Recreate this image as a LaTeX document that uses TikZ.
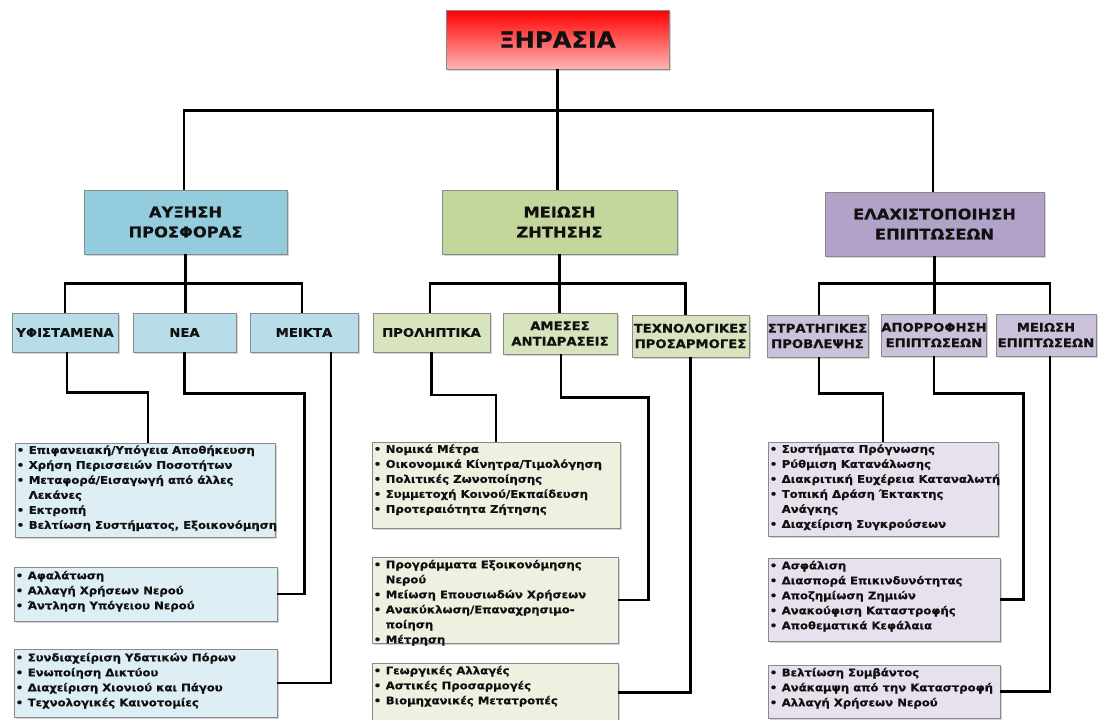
\documentclass[tikz,border=0pt]{standalone}
\usepackage{fontspec}
\setmainfont{DejaVu Sans}[FakeStretch=1.1, BoldFeatures={FakeBold=0.6}]
\usetikzlibrary{shadows}

\definecolor{ink}{HTML}{111111}
\definecolor{edge}{HTML}{8A8A8A}
\definecolor{catblue}{HTML}{93CDDD}
\definecolor{catgreen}{HTML}{C3D69B}
\definecolor{catpurple}{HTML}{B3A2C7}
\definecolor{subblue}{HTML}{B7DEE8}
\definecolor{subgreen}{HTML}{D7E4BD}
\definecolor{subpurple}{HTML}{CCC1DA}
\definecolor{listblue}{HTML}{DDEFF5}
\definecolor{listgreen}{HTML}{EDF2E0}
\definecolor{listpurple}{HTML}{E6E1ED}
\definecolor{pinkend}{HTML}{FFB4B4}

% bullet row and continuation row of a list table
\newcommand\itm[1]{\textbullet & #1\\}
\newcommand\cont[1]{& #1\\}
\newenvironment{bul}{\renewcommand\arraystretch{1}\begin{tabular}{@{}c@{\hspace{4.5pt}}l@{}}}{\end{tabular}}

\tikzset{
  box/.style={draw=edge, line width=0.8pt, inner sep=0pt, text=ink,
    font=\bfseries, align=center,
    drop shadow={opacity=0.35, shadow xshift=1.6pt, shadow yshift=-1.6pt}},
  topbox/.style={box, top color=red, bottom color=pinkend,
    font=\fontsize{22}{24}\selectfont\bfseries},
  catbox/.style={box, font=\fontsize{14.8}{20}\selectfont\bfseries},
  subbox/.style={box, font=\fontsize{12}{15.5}\selectfont\bfseries},
  listbox/.style={box},
  listtext/.style={anchor=north west, inner sep=0pt, text=ink, align=left,
    font=\fontsize{10.6}{15}\selectfont\bfseries},
  conn/.style={line width=2.4pt, black}
}

\begin{document}
\begin{tikzpicture}[x=1pt, y=-1pt]
\useasboundingbox (0,0) rectangle (1098,720);

% root
\node[topbox, minimum width=223pt, minimum height=59pt] (top) at (557.5,39.5) {ΞΗΡΑΣΙΑ};

% strategies
\node[catbox, fill=catblue, minimum width=203pt, minimum height=64pt] (A) at (185.5,222) {ΑΥΞΗΣΗ\\ΠΡΟΣΦΟΡΑΣ};
\node[catbox, fill=catgreen, minimum width=235pt, minimum height=64pt] (B) at (559.5,222) {ΜΕΙΩΣΗ\\ΖΗΤΗΣΗΣ};
\node[catbox, fill=catpurple, minimum width=219pt, minimum height=64pt] (C) at (934.5,224) {ΕΛΑΧΙΣΤΟΠΟΙΗΣΗ\\ΕΠΙΠΤΩΣΕΩΝ};

% measure groups
\node[subbox, fill=subblue, minimum width=106pt, minimum height=39pt] (A1) at (65,332.5) {ΥΦΙΣΤΑΜΕΝΑ};
\node[subbox, fill=subblue, minimum width=103pt, minimum height=39pt] (A2) at (184.5,332.5) {ΝΕΑ};
\node[subbox, fill=subblue, minimum width=108pt, minimum height=39pt] (A3) at (304,332.5) {ΜΕΙΚΤΑ};
\node[subbox, fill=subgreen, minimum width=117pt, minimum height=39pt] (B1) at (431.5,332.5) {ΠΡΟΛΗΠΤΙΚΑ};
\node[subbox, fill=subgreen, minimum width=114pt, minimum height=41pt] (B2) at (560,333.5) {ΑΜΕΣΕΣ\\ΑΝΤΙΔΡΑΣΕΙΣ};
\node[subbox, fill=subgreen, minimum width=117pt, minimum height=42pt] (B3) at (690.5,336) {ΤΕΧΝΟΛΟΓΙΚΕΣ\\ΠΡΟΣΑΡΜΟΓΕΣ};
\node[subbox, fill=subpurple, minimum width=101pt, minimum height=42pt] (C1) at (817.5,336) {ΣΤΡΑΤΗΓΙΚΕΣ\\ΠΡΟΒΛΕΨΗΣ};
\node[subbox, fill=subpurple, minimum width=102pt, minimum height=42pt] (C2) at (934,335) {ΑΠΟΡΡΟΦΗΣΗ\\ΕΠΙΠΤΩΣΕΩΝ};
\node[subbox, fill=subpurple, minimum width=100pt, minimum height=42pt] (C3) at (1046,335) {ΜΕΙΩΣΗ\\ΕΠΙΠΤΩΣΕΩΝ};

% list boxes
\node[listbox, fill=listblue, minimum width=260pt, minimum height=94pt] (LA1) at (145,490) {};
\node[listbox, fill=listblue, minimum width=263pt, minimum height=54pt] (LA2) at (145.5,594) {};
\node[listbox, fill=listblue, minimum width=263pt, minimum height=68pt] (LA3) at (145.5,683) {};
\node[listbox, fill=listgreen, minimum width=248pt, minimum height=86pt] (LB1) at (496,485) {};
\node[listbox, fill=listgreen, minimum width=246pt, minimum height=86pt] (LB2) at (495,600) {};
\node[listbox, fill=listgreen, minimum width=246pt, minimum height=59pt] (LB3) at (495,692.5) {};
\node[listbox, fill=listpurple, minimum width=230pt, minimum height=94pt] (LC1) at (883,489) {};
\node[listbox, fill=listpurple, minimum width=232pt, minimum height=83pt] (LC2) at (884,599.5) {};
\node[listbox, fill=listpurple, minimum width=232pt, minimum height=53pt] (LC3) at (884,691.5) {};

% list contents
\node[listtext] (tA1) at ([xshift=2pt,yshift=-0.5pt]LA1.north west) {\begin{bul}
\itm{Επιφανειακή/Υπόγεια Αποθήκευση}
\itm{Χρήση Περισσειών Ποσοτήτων}
\itm{Μεταφορά/Εισαγωγή από άλλες}
\cont{Λεκάνες}
\itm{Εκτροπή}
\itm{Βελτίωση Συστήματος, Εξοικονόμηση}
\end{bul}};
\node[listtext] (tA2) at ([xshift=2pt,yshift=-2pt]LA2.north west) {\begin{bul}
\itm{Αφαλάτωση}
\itm{Αλλαγή Χρήσεων Νερού}
\itm{Άντληση Υπόγειου Νερού}
\end{bul}};
\node[listtext] (tA3) at ([xshift=2pt,yshift=-2pt]LA3.north west) {\begin{bul}
\itm{Συνδιαχείριση Υδατικών Πόρων}
\itm{Ενωποίηση Δικτύου}
\itm{Διαχείριση Χιονιού και Πάγου}
\itm{Τεχνολογικές Καινοτομίες}
\end{bul}};
\node[listtext] (tB1) at ([xshift=2pt,yshift=-0.5pt]LB1.north west) {\begin{bul}
\itm{Νομικά Μέτρα}
\itm{Οικονομικά Κίνητρα/Τιμολόγηση}
\itm{Πολιτικές Ζωνοποίησης}
\itm{Συμμετοχή Κοινού/Εκπαίδευση}
\itm{Προτεραιότητα Ζήτησης}
\end{bul}};
\node[listtext] (tB2) at ([xshift=2pt,yshift=-1pt]LB2.north west) {\begin{bul}
\itm{Προγράμματα Εξοικονόμησης}
\cont{Νερού}
\itm{Μείωση Επουσιωδών Χρήσεων}
\itm{Ανακύκλωση/Επαναχρησιμο-}
\cont{ποίηση}
\itm{Μέτρηση}
\end{bul}};
\node[listtext] (tB3) at ([xshift=2pt,yshift=-1pt]LB3.north west) {\begin{bul}
\itm{Γεωργικές Αλλαγές}
\itm{Αστικές Προσαρμογές}
\itm{Βιομηχανικές Μετατροπές}
\end{bul}};
\node[listtext] (tC1) at ([xshift=2pt,yshift=-0.5pt]LC1.north west) {\begin{bul}
\itm{Συστήματα Πρόγνωσης}
\itm{Ρύθμιση Κατανάλωσης}
\itm{Διακριτική Ευχέρεια Καταναλωτή}
\itm{Τοπική Δράση Έκτακτης}
\cont{Ανάγκης}
\itm{Διαχείριση Συγκρούσεων}
\end{bul}};
\node[listtext] (tC2) at ([xshift=2pt,yshift=-1pt]LC2.north west) {\begin{bul}
\itm{Ασφάλιση}
\itm{Διασπορά Επικινδυνότητας}
\itm{Αποζημίωση Ζημιών}
\itm{Ανακούφιση Καταστροφής}
\itm{Αποθεματικά Κεφάλαια}
\end{bul}};
\node[listtext] (tC3) at ([xshift=2pt,yshift=-1pt]LC3.north west) {\begin{bul}
\itm{Βελτίωση Συμβάντος}
\itm{Ανάκαμψη από την Καταστροφή}
\itm{Αλλαγή Χρήσεων Νερού}
\end{bul}};

% root to strategies
\draw[conn] (top.south) -- ++(0,41) coordinate (hub);
\draw[conn] ([xshift=-1.5pt]A.north) |- (hub) -| ([xshift=-1.5pt]C.north);
\draw[conn] (hub) -- (hub |- B.north);

% strategies to groups
\draw[conn] (A.south) -- ++(0,29) coordinate (ha);
\draw[conn] (A1.north) |- (ha) -| ([xshift=-2pt]A3.north);
\draw[conn] (ha) -- (ha |- A2.north);
\draw[conn] (B.south) -- ++(0,29) coordinate (hb);
\draw[conn] ([xshift=-1.5pt]B1.north) |- (hb) -| ([xshift=-5pt]B3.north);
\draw[conn] (hb) -- (hb |- B2.north);
\draw[conn] (C.south) -- ++(0,27) coordinate (hc);
\draw[conn] ([xshift=1.5pt]C1.north) |- (hc) -| ([xshift=4pt]C3.north);
\draw[conn] (hc) -- (hc |- C2.north);

% groups to lists
\draw[conn] ([xshift=2pt]A1.south) -- ++(0,40) -| ([xshift=3pt]LA1.north);
\draw[conn] (A2.south) -- ++(0,41) -| ([xshift=27pt]LA2.east) -- (LA2.east);
\draw[conn] ([xshift=27pt]A3.south) |- (LA3.east);
\draw[conn] (B1.south) -- ++(0,42.5) -| (LB1.north);
\draw[conn] ([xshift=1pt]B2.south) -- ++(0,43) -| ([xshift=30pt]LB2.east) -- (LB2.east);
\draw[conn] (B3.south) |- (LB3.east);
\draw[conn] ([xshift=1.5pt]C1.south) -- ++(0,36) -| (LC1.north);
\draw[conn] (C2.south) -- ++(0,37) -| ([xshift=23pt]LC2.east) -- (LC2.east);
\draw[conn] ([xshift=4pt]C3.south) |- (LC3.east);
\end{tikzpicture}
\end{document}
